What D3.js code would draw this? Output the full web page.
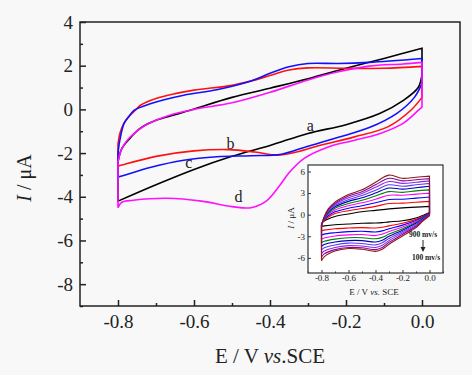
<!DOCTYPE html>
<html>
<head>
<meta charset="utf-8">
<script src="https://cdn.jsdelivr.net/npm/d3@7"></script>
<style>
  body { margin: 0; background: #f8f8f8; }
  svg { display: block; }
</style>
</head>
<body>
<div id="container"></div>
<script>
// ---- main plot data: [E (V), I (uA)], forward sweep then reverse sweep ----
let aUpper = [[-0.8,-2.4],[-0.79,-1.8],[-0.77,-1.35],[-0.74,-0.85],[-0.7,-0.5],[-0.65,-0.25],[-0.6,0.02],[-0.5,0.55],[-0.4,0.97],[-0.3,1.4],[-0.2,1.88],[-0.1,2.33],[0,2.8]];
let aLower = [[0,1.6],[-0.01,1.0],[-0.05,0.4],[-0.11,-0.18],[-0.2,-0.7],[-0.3,-1.1],[-0.4,-1.65],[-0.5,-2.15],[-0.6,-2.75],[-0.7,-3.45],[-0.8,-4.2]];
let bUpper = [[-0.8,-1.6],[-0.795,-1.1],[-0.785,-0.65],[-0.774,-0.37],[-0.755,-0.05],[-0.74,0.2],[-0.7,0.5],[-0.65,0.72],[-0.6,0.88],[-0.5,1.1],[-0.45,1.3],[-0.4,1.55],[-0.35,1.8],[-0.3,1.9],[-0.2,1.88],[-0.1,1.88],[0,1.97]];
let bLower = [[0,0.55],[-0.03,-0.05],[-0.09,-0.8],[-0.18,-1.27],[-0.27,-1.65],[-0.33,-1.95],[-0.38,-2.1],[-0.44,-1.95],[-0.51,-1.84],[-0.6,-1.9],[-0.7,-2.15],[-0.79,-2.55],[-0.8,-2.6]];
let cUpper = [[-0.8,-2.0],[-0.795,-1.4],[-0.784,-0.64],[-0.77,-0.3],[-0.758,-0.05],[-0.713,0.27],[-0.627,0.65],[-0.54,0.9],[-0.45,1.3],[-0.4,1.65],[-0.35,1.95],[-0.3,2.1],[-0.22,2.1],[-0.14,2.15],[0,2.33]];
let cLower = [[0,1.19],[-0.02,0.55],[-0.066,-0.18],[-0.137,-0.82],[-0.22,-1.28],[-0.31,-1.74],[-0.37,-2.05],[-0.45,-2.12],[-0.54,-2.17],[-0.627,-2.33],[-0.713,-2.65],[-0.79,-3.05],[-0.8,-3.1]];
let dUpper = [[-0.8,-2.4],[-0.79,-1.8],[-0.77,-1.3],[-0.73,-0.75],[-0.67,-0.3],[-0.6,0.0],[-0.5,0.3],[-0.4,0.78],[-0.3,1.35],[-0.22,1.72],[-0.14,1.98],[-0.05,2.08],[0,2.15]];
let dLower = [[0,0.1],[-0.01,-0.05],[-0.05,-0.64],[-0.11,-1.1],[-0.18,-1.42],[-0.25,-1.74],[-0.31,-2.24],[-0.35,-2.9],[-0.375,-3.5],[-0.41,-4.2],[-0.45,-4.5],[-0.5,-4.45],[-0.58,-4.2],[-0.67,-4.07],[-0.76,-4.16],[-0.79,-4.25],[-0.8,-4.5]];

let curveNames = ["a","b","c","d"];
let curveColors = ["#000000","#ff1010","#1010ff","#ff10ff"];
let xTicks = [-0.8,-0.6,-0.4,-0.2,0.0];
let xMinor = [-0.7,-0.5,-0.3,-0.1];
let yTicks = [-8,-6,-4,-2,0,2,4];
let yMinor = [-9,-7,-5,-3,-1,1,3];

// ---- inset data: scan rates 100 ... 1000 mV/s ----
let insetColors = ["#000000","#ff0000","#0000ff","#ff00ff","#008000","#0000b0","#5a3cff","#8a2be2","#900090","#8b1a1a"];
let insetUpperE = [-0.8,-0.78,-0.75,-0.7,-0.6,-0.5,-0.4,-0.3,-0.2,-0.1,0.0];
let insetUpperI = [
  [-1.2,-0.9,-0.6,-0.25,0.1,0.4,0.6,0.8,0.95,1.05,1.15],
  [-1.3,-0.8,-0.35,0.15,0.55,0.85,1.15,1.55,1.6,1.72,1.85],
  [-1.35,-0.7,-0.15,0.4,0.9,1.25,1.65,2.1,2.15,2.3,2.45],
  [-1.4,-0.6,0.05,0.65,1.25,1.65,2.15,2.7,2.7,2.85,3.0],
  [-1.4,-0.55,0.2,0.9,1.55,2.0,2.6,3.2,3.1,3.3,3.45],
  [-1.45,-0.5,0.35,1.1,1.85,2.35,3.0,3.7,3.55,3.75,3.95],
  [-1.45,-0.45,0.5,1.3,2.1,2.65,3.4,4.15,3.95,4.15,4.35],
  [-1.5,-0.4,0.6,1.45,2.35,2.95,3.8,4.6,4.35,4.5,4.7],
  [-1.5,-0.35,0.7,1.6,2.6,3.2,4.15,5.05,4.7,4.85,5.0],
  [-1.5,-0.3,0.8,1.75,2.8,3.45,4.5,5.5,5.05,5.2,5.35]
];
let insetLowerE = [0.0,-0.05,-0.1,-0.2,-0.3,-0.35,-0.4,-0.5,-0.6,-0.7,-0.78,-0.8];
let insetLowerI = [
  [0.3,-0.1,-0.45,-0.85,-1.0,-1.1,-1.15,-1.2,-1.3,-1.4,-1.55,-1.6],
  [0.25,-0.25,-0.65,-1.2,-1.55,-1.75,-1.85,-1.8,-1.85,-1.95,-2.15,-2.25],
  [0.2,-0.35,-0.8,-1.45,-1.95,-2.25,-2.4,-2.3,-2.35,-2.5,-2.7,-2.85],
  [0.15,-0.45,-0.95,-1.7,-2.35,-2.7,-2.9,-2.75,-2.8,-2.95,-3.25,-3.4],
  [0.1,-0.5,-1.1,-1.95,-2.7,-3.15,-3.35,-3.2,-3.2,-3.4,-3.7,-3.9],
  [0.05,-0.6,-1.2,-2.15,-3.0,-3.55,-3.8,-3.6,-3.6,-3.8,-4.15,-4.4],
  [0.0,-0.65,-1.35,-2.35,-3.3,-3.9,-4.2,-4.0,-3.95,-4.2,-4.6,-4.9],
  [-0.05,-0.75,-1.5,-2.55,-3.6,-4.25,-4.55,-4.35,-4.3,-4.55,-5.05,-5.4],
  [-0.1,-0.8,-1.65,-2.75,-3.85,-4.55,-4.85,-4.6,-4.55,-4.85,-5.45,-5.9],
  [-0.15,-0.9,-1.8,-2.95,-4.1,-4.8,-5.1,-4.8,-4.7,-5.05,-5.85,-6.4]
];
let insetYTicks = [-6,-3,0,3,6];
let insetXMinor = [-0.9,-0.7,-0.5,-0.3,-0.1,0.1];

let w = 472;
let h = 375;
let serif = "Liberation Serif";

let viz = d3.select('#container')
              .append("svg")
                .attr("width", w)
                .attr("height", h)
                .attr("font-family", serif)
                .attr("fill", "#222");

viz.append("rect").attr("width", w).attr("height", h).attr("fill", "#f8f8f8");

// main scales
let x = d3.scaleLinear().domain([-0.9, 0.1]).range([80, 460]);
let y = d3.scaleLinear().domain([-9, 4]).range([306, 22]);

let fmt1 = d => d.toFixed(1);

function styleTicks(g, size) {
  g.attr("font-family", serif).attr("font-size", size);
  g.selectAll("text").attr("font-family", serif).attr("font-size", size).attr("fill", "#222");
}

//ticks - bottom
viz.append("g").attr("transform", "translate(0,306)")
   .call(d3.axisBottom(x).tickValues(xTicks).tickSize(-6).tickPadding(9).tickFormat(fmt1))
   .call(styleTicks, 19);
viz.append("g").attr("transform", "translate(0,306)")
   .call(d3.axisBottom(x).tickValues(xMinor).tickSize(-3).tickFormat(""));
//ticks - left
viz.append("g").attr("transform", "translate(80,0)")
   .call(d3.axisLeft(y).tickValues(yTicks).tickSize(-6).tickPadding(7).tickFormat(d => String(d)))
   .call(styleTicks, 19);
viz.append("g").attr("transform", "translate(80,0)")
   .call(d3.axisLeft(y).tickValues(yMinor).tickSize(-3).tickFormat(""));

viz.selectAll(".domain").remove();
viz.selectAll(".tick line").attr("stroke", "#222").attr("stroke-width", 1.5);

//frame
viz.append("rect")
   .attr("x", 80).attr("y", 22).attr("width", 380).attr("height", 284)
   .attr("fill", "none").attr("stroke", "#222").attr("stroke-width", 1.5);

// curves: smooth branches, straight turn-around segments at the vertex potentials
let line = d3.line()
             .x(d => x(d[0]))
             .y(d => y(d[1]))
             .curve(d3.curveCatmullRom.alpha(0.5));

function loopPath(up, low, gen) {
  return gen(up) + gen(low).replace(/^M/, "L") + "Z";
}

let loops = [[aUpper, aLower], [bUpper, bLower], [cUpper, cLower], [dUpper, dLower]];

viz.selectAll(".cv").data(loops).enter()
   .append("path")
     .attr("class", "cv")
     .attr("d", d => loopPath(d[0], d[1], line))
     .attr("fill", "none")
     .attr("stroke", (d, i) => curveColors[i])
     .attr("stroke-width", 1.6);

// curve letters
let labelPos = [[-0.294,-0.98],[-0.504,-1.8],[-0.614,-2.7],[-0.483,-4.25]];
viz.selectAll(".lbl").data(curveNames).enter()
   .append("text")
     .attr("x", (d, i) => x(labelPos[i][0]))
     .attr("y", (d, i) => y(labelPos[i][1]))
     .attr("text-anchor", "middle")
     .attr("font-size", 16)
     .text(d => d);

// axis titles
let yTitle = viz.append("text")
   .attr("transform", "translate(31,178) rotate(-90)")
   .attr("text-anchor", "middle")
   .attr("font-size", 20);
yTitle.append("tspan").attr("font-style", "italic").text("I");
yTitle.append("tspan").text(" / μA");

let xTitle = viz.append("text")
   .attr("x", 270).attr("y", 363)
   .attr("text-anchor", "middle")
   .attr("font-size", 21);
xTitle.append("tspan").text("E / V ");
xTitle.append("tspan").attr("font-style", "italic").text("vs");
xTitle.append("tspan").text(".SCE");

// ---- inset ----
let ix = d3.scaleLinear().domain([-0.9, 0.1]).range([308, 443]);
let iy = d3.scaleLinear().domain([-8.1, 6.9]).range([273, 165]);

let inset = viz.append("g");
inset.append("rect")
   .attr("x", 308).attr("y", 165).attr("width", 135).attr("height", 108)
   .attr("fill", "#ffffff").attr("stroke", "none");

let iline = d3.line()
              .x(d => ix(d[0]))
              .y(d => iy(d[1]))
              .curve(d3.curveCatmullRom.alpha(0.5));

let insetLoops = insetUpperI.map((up, k) => [
  insetUpperE.map((e, j) => [e, up[j]]),
  insetLowerE.map((e, j) => [e, insetLowerI[k][j]])
]);

inset.selectAll(".icv").data(insetLoops).enter()
   .append("path")
     .attr("class", "icv")
     .attr("d", d => loopPath(d[0], d[1], iline))
     .attr("fill", "none")
     .attr("stroke", (d, i) => insetColors[i])
     .attr("stroke-width", 1.1);

inset.append("g").attr("transform", "translate(0,273)")
   .call(d3.axisBottom(ix).tickValues(xTicks).tickSize(-3).tickPadding(2).tickFormat(fmt1))
   .call(styleTicks, 9);
inset.append("g").attr("transform", "translate(0,273)")
   .call(d3.axisBottom(ix).tickValues(insetXMinor).tickSize(-1.5).tickFormat(""));
inset.append("g").attr("transform", "translate(308,0)")
   .call(d3.axisLeft(iy).tickValues(insetYTicks).tickSize(-3).tickPadding(3).tickFormat(d => String(d)))
   .call(styleTicks, 9);
inset.selectAll(".domain").remove();
inset.selectAll(".tick line").attr("stroke", "#333").attr("stroke-width", 1);

inset.append("rect")
   .attr("x", 308).attr("y", 165).attr("width", 135).attr("height", 108)
   .attr("fill", "none").attr("stroke", "#333").attr("stroke-width", 1.2);

let ixTitle = inset.append("text")
   .attr("x", 374).attr("y", 295)
   .attr("text-anchor", "middle")
   .attr("font-size", 9);
ixTitle.append("tspan").text("E / V ");
ixTitle.append("tspan").attr("font-style", "italic").text("vs.");
ixTitle.append("tspan").text(" SCE");

let iyTitle = inset.append("text")
   .attr("transform", "translate(294,218) rotate(-90)")
   .attr("text-anchor", "middle")
   .attr("font-size", 9);
iyTitle.append("tspan").attr("font-style", "italic").text("I");
iyTitle.append("tspan").text(" / μA");

//scan-rate note
inset.append("text").attr("x", 423).attr("y", 237).attr("text-anchor", "middle")
   .attr("font-size", 7.5).attr("font-weight", "bold").text("900 mv/s");
inset.append("line").attr("x1", 423).attr("y1", 240).attr("x2", 423).attr("y2", 248)
   .attr("stroke", "#222").attr("stroke-width", 1);
inset.append("path").attr("d", "M420.5,247 L425.5,247 L423,252 Z").attr("fill", "#222");
inset.append("text").attr("x", 426).attr("y", 260).attr("text-anchor", "middle")
   .attr("font-size", 7.5).attr("font-weight", "bold").text("100 mv/s");
</script>
</body>
</html>
